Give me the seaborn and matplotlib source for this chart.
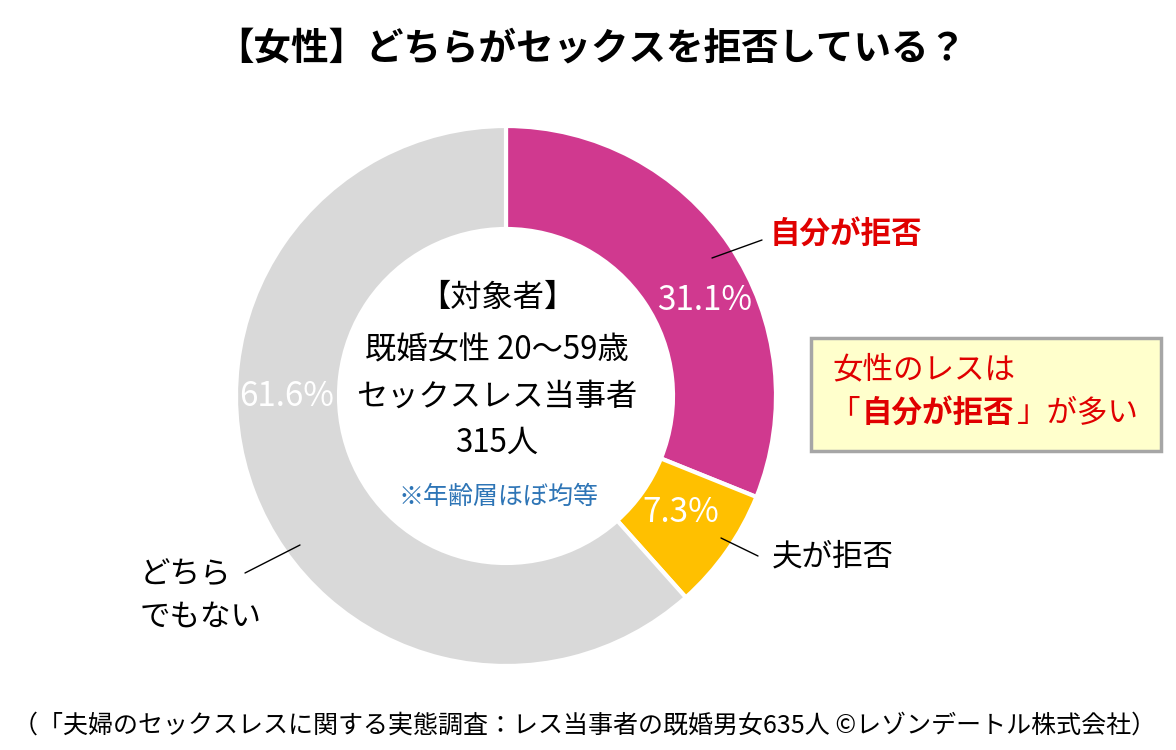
import matplotlib.pyplot as plt
import seaborn as sns
from matplotlib.patches import Rectangle

# dane z wykresu
labels = ['自分が拒否', '夫が拒否', 'どちらでもない']
shares = [31.1, 7.3, 61.6]
colors = ['#D0398F', '#FFC000', '#D9D9D9']
pct_labels = [f'{v:.1f}%' for v in shares]

title = '【女性】どちらがセックスを拒否している？'
center_lines = ['【対象者】', '既婚女性 20～59歳', 'セックスレス当事者', '315人']
center_note = '※年齢層ほぼ均等'
footer = '（「夫婦のセックスレスに関する実態調査：レス当事者の既婚男女635人 ©レゾンデートル株式会社）'

sns.set_theme(style='white')
plt.rcParams['font.family'] = ['Noto Sans CJK JP', 'DejaVu Sans']
plt.rcParams['text.color'] = 'black'

W, H = 1176, 750
fig = plt.figure(figsize=(W / 100, H / 100), dpi=100)
ax = fig.add_axes([0, 0, 1, 1])

# pozycje w pikselach (y od góry) -> y od dołu
def py(y):
    return H - y

cx, cy, R = 506, 396, 270
ax.pie(shares, colors=colors, startangle=90, counterclock=False,
       center=(cx, py(cy)), radius=R,
       wedgeprops={'width': 103, 'edgecolor': 'white', 'linewidth': 3})
ax.set_xlim(0, W)
ax.set_ylim(0, H)
ax.set_aspect('auto')
ax.axis('off')

# tytul
ax.text(591, py(48), title, ha='center', va='center', fontsize=27, fontweight='bold')

# procenty
pct_pos = [(705, 300), (681, 513), (287, 397)]
for txt, (x, y) in zip(pct_labels, pct_pos):
    ax.text(x, py(y), txt, ha='center', va='center', fontsize=24, color='white')

# etykiety z liniami
ax.plot([712, 762], [py(258), py(240)], color='black', lw=1)
ax.text(770, py(234), labels[0], ha='left', va='center', fontsize=22,
        fontweight='bold', color='#E00000')
ax.plot([721, 758], [py(538), py(556)], color='black', lw=1)
ax.text(772, py(557), labels[1], ha='left', va='center', fontsize=22)
ax.plot([300, 245], [py(545), py(573)], color='black', lw=1)
ax.text(140, py(575), 'どちら', ha='left', va='center', fontsize=22)
ax.text(140, py(617), 'でもない', ha='left', va='center', fontsize=22)

# srodek
center_y = [298, 350, 397, 443]
for txt, y in zip(center_lines, center_y):
    ax.text(497, py(y), txt, ha='center', va='center', fontsize=22.5)
ax.text(499, py(497), center_note, ha='center', va='center', fontsize=18, color='#2E75B6')

# ramka
ax.add_patch(Rectangle((811, py(451)), 350, 113, facecolor='#FFFFCC',
                       edgecolor='#A6A6A6', linewidth=2.5))
ax.text(832, py(370), '女性のレスは', ha='left', va='center', fontsize=22, color='#E00000')
ax.text(829, py(413), '「', ha='left', va='center', fontsize=22, color='#E00000')
ax.text(862, py(413), '自分が拒否', ha='left', va='center', fontsize=22,
        fontweight='bold', color='#E00000')
ax.text(1017, py(413), '」が多い', ha='left', va='center', fontsize=22, color='#E00000')

# stopka
ax.text(585, py(726), footer, ha='center', va='center', fontsize=18)

fig.savefig('out.png', dpi=100)
